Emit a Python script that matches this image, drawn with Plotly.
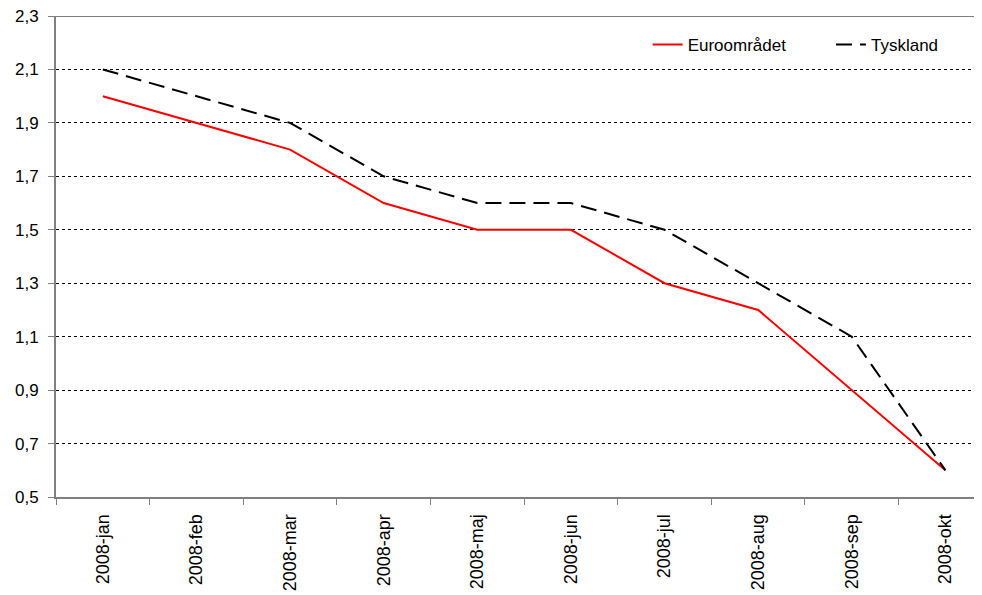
import plotly.graph_objects as go

months = ["2008-jan", "2008-feb", "2008-mar", "2008-apr", "2008-maj",
          "2008-jun", "2008-jul", "2008-aug", "2008-sep", "2008-okt"]
euro = [2.0, 1.9, 1.8, 1.6, 1.5, 1.5, 1.3, 1.2, 0.9, 0.6]
tyskland = [2.1, 2.0, 1.9, 1.7, 1.6, 1.6, 1.5, 1.3, 1.1, 0.6]
yticks = [0.5, 0.7, 0.9, 1.1, 1.3, 1.5, 1.7, 1.9, 2.1, 2.3]

fig = go.Figure()
fig.add_trace(go.Scatter(x=months, y=euro, mode="lines", name="Euroområdet",
                         line=dict(color="#ff0000", width=2), legend="legend"))
fig.add_trace(go.Scatter(x=months, y=tyskland, mode="lines", name="Tyskland",
                         line=dict(color="#000000", width=2, dash="16px,8px"),
                         legend="legend2"))

fig.add_shape(type="line", xref="paper", yref="y", x0=0, x1=1, y0=2.3, y1=2.3,
              line=dict(color="#000000", width=1))

leg_common = dict(orientation="h", xanchor="left", yanchor="top",
                  bgcolor="rgba(0,0,0,0)", font=dict(size=17))

fig.update_layout(
    width=982, height=595,
    margin=dict(l=48, r=9, t=8, b=106),
    paper_bgcolor="white", plot_bgcolor="white",
    separators=", ",
    font=dict(family="Liberation Sans, Arial, sans-serif", size=17, color="#000000"),
    showlegend=True,
    legend=dict(x=0.6396, y=0.977, **leg_common),
    legend2=dict(x=0.8378, y=0.977, **leg_common),
    xaxis=dict(type="category", range=[-0.5, 9.38], tickson="boundaries",
               ticks="outside", ticklen=6, tickcolor="#808080", tickwidth=1,
               showline=True, linecolor="#808080", linewidth=2, automargin=False,
               showgrid=False, tickangle=-90, tickfont=dict(size=18),
               ticklabelstandoff=8, ticklabeloverflow="allow"),
    yaxis=dict(range=[0.5, 2.3], tickvals=yticks, tickformat=".1f",
               ticks="outside", ticklen=6, tickcolor="#808080", automargin=False,
               showline=True, linecolor="#808080", linewidth=2,
               showgrid=True, gridcolor="#000000", gridwidth=1, griddash="dot",
               zeroline=False, tickfont=dict(size=17), ticklabelstandoff=6,
               ticklabeloverflow="allow"),
)

fig.write_html("out.html")
